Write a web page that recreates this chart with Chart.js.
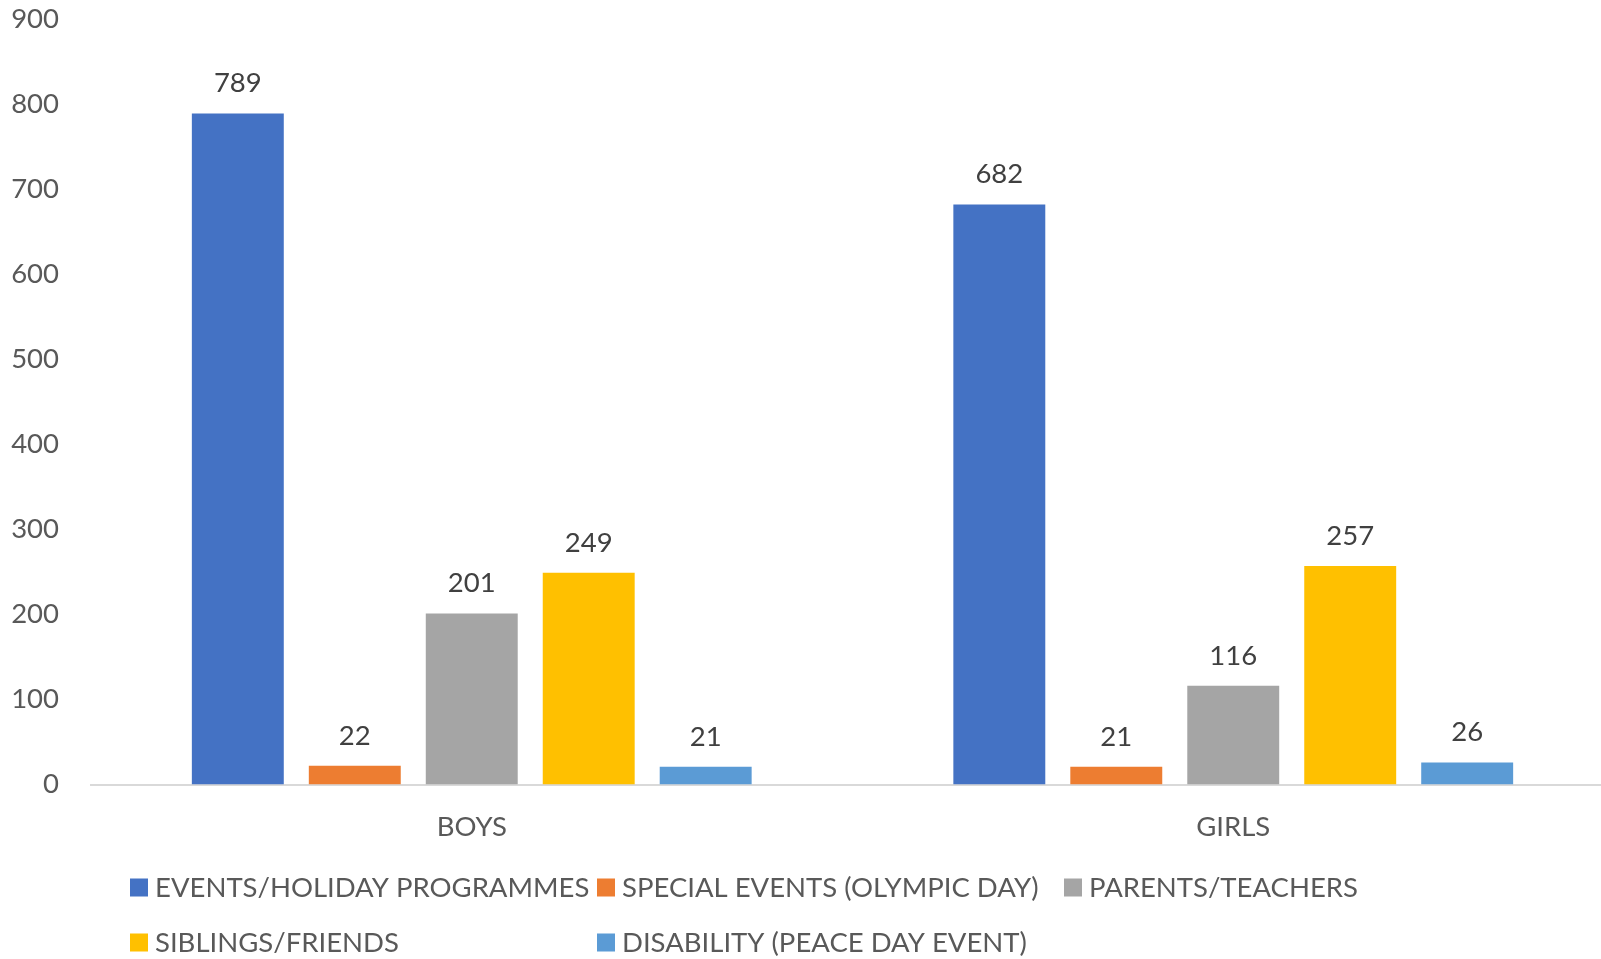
<!DOCTYPE html>
<html>
<head>
<meta charset="utf-8">
<script src="https://cdn.jsdelivr.net/npm/chart.js@4.4.1/dist/chart.umd.min.js"></script>
<style>
  html, body { margin: 0; padding: 0; background: #ffffff; overflow: hidden; }
  #wrap { width: 1601px; height: 959px; overflow: hidden; position: relative; }
  #wrap canvas { position: absolute; left: 0; top: 0; }
</style>
</head>
<body>
<div id="wrap"><canvas id="c" width="1614" height="959" style="width:1614px;height:959px"></canvas></div>
<script>
const categories = ['BOYS', 'GIRLS'];
const seriesNames = [
  'EVENTS/HOLIDAY PROGRAMMES',
  'SPECIAL EVENTS (OLYMPIC DAY)',
  'PARENTS/TEACHERS',
  'SIBLINGS/FRIENDS',
  'DISABILITY (PEACE DAY EVENT)'
];
const eventsHoliday = [789, 682];
const specialEvents = [22, 21];
const parentsTeachers = [201, 116];
const siblingsFriends = [249, 257];
const disability = [21, 26];
const seriesColors = ['#4472C4', '#ED7D31', '#A5A5A5', '#FFC000', '#5B9BD5'];
const yTicks = [0, 100, 200, 300, 400, 500, 600, 700, 800, 900];

const FONT = 'Lato, "Open Sans", sans-serif';
const FS = 27.5;
const seriesValues = [eventsHoliday, specialEvents, parentsTeachers, siblingsFriends, disability];

const dataLabelPlugin = {
  id: 'dataLabels',
  afterDatasetsDraw(chart) {
    const ctx = chart.ctx;
    ctx.save();
    ctx.font = FS + 'px ' + FONT;
    ctx.fillStyle = '#404040';
    ctx.textAlign = 'center';
    ctx.textBaseline = 'middle';
    chart.data.datasets.forEach((ds, i) => {
      const meta = chart.getDatasetMeta(i);
      meta.data.forEach((bar, j) => {
        ctx.fillText(String(ds.data[j]), bar.x, bar.y - 30);
      });
    });
    ctx.restore();
  }
};

const gridLegendPlugin = {
  id: 'gridLegend',
  afterDraw(chart) {
    const ctx = chart.ctx;
    const cols = [130, 597, 1064];
    const rows = [887.5, 942.5];
    ctx.save();
    ctx.font = FS + 'px ' + FONT;
    ctx.textBaseline = 'middle';
    ctx.textAlign = 'left';
    chart.data.datasets.forEach((ds, i) => {
      const cx = cols[i % 3];
      const cy = rows[Math.floor(i / 3)];
      ctx.fillStyle = ds.backgroundColor;
      ctx.fillRect(cx, cy - 9, 18, 18);
      ctx.fillStyle = '#595959';
      ctx.fillText(ds.label, cx + 25, cy + 1);
    });
    ctx.restore();
  }
};

new Chart(document.getElementById('c'), {
  type: 'bar',
  data: {
    labels: categories,
    datasets: seriesNames.map((name, i) => ({
      label: name,
      data: seriesValues[i],
      backgroundColor: seriesColors[i],
      borderWidth: 0,
      categoryPercentage: 0.768,
      barPercentage: 0.786
    }))
  },
  options: {
    responsive: false,
    animation: false,
    devicePixelRatio: 1,
    layout: { padding: { top: 19, right: 0, bottom: 0, left: 0 } },
    plugins: {
      legend: { display: false },
      tooltip: { enabled: false }
    },
    scales: {
      x: {
        grid: { display: false, drawTicks: false },
        border: { display: true, color: '#D9D9D9', width: 2 },
        ticks: { color: '#595959', font: { family: FONT, size: FS }, padding: 26 },
        afterFit(scale) { scale.height = 959 - 784.5; }
      },
      y: {
        min: 0,
        max: 900,
        afterBuildTicks(scale) { scale.ticks = yTicks.map(v => ({ value: v })); },
        grid: { display: false, drawTicks: false },
        border: { display: false },
        ticks: { color: '#595959', font: { family: FONT, size: FS }, padding: 32 },
        afterFit(scale) { scale.width = 91; scale.paddingTop = 0; scale.paddingBottom = 0; }
      }
    }
  },
  plugins: [dataLabelPlugin, gridLegendPlugin]
});
</script>
</body>
</html>
